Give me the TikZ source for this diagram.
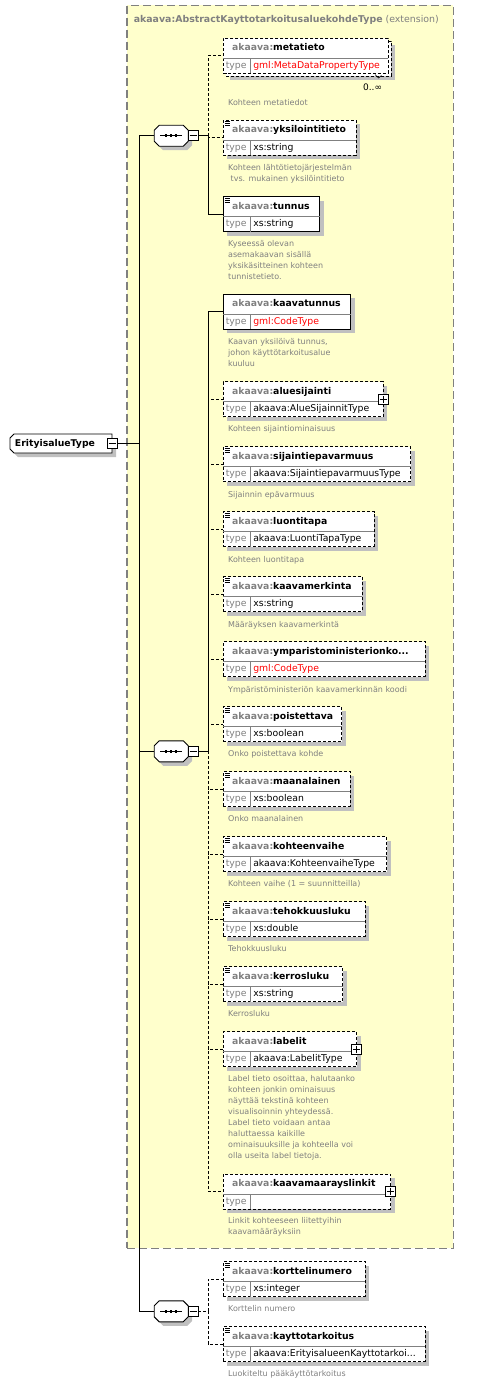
\documentclass[tikz,border=0pt]{standalone}
\usepackage{fontspec}
\setmainfont{DejaVu Sans}
\usetikzlibrary{calc}
\definecolor{extfill}{RGB}{255,255,204}
\definecolor{extborder}{RGB}{128,128,128}
\definecolor{greytext}{RGB}{128,128,128}
\definecolor{shadowc}{RGB}{192,192,192}
\definecolor{divc}{RGB}{128,128,128}
\definecolor{typered}{RGB}{255,0,0}
\tikzset{
  optline/.style={dash pattern=on 3pt off 2pt},
  reqline/.style={solid},
  elembox/.style={draw=black, fill=white, inner sep=0pt, outer sep=0pt},
  nametext/.style={font=\fontsize{9.3}{11}\selectfont\bfseries, inner sep=0pt, anchor=west, text height=7pt, text depth=2pt},
  typetext/.style={font=\fontsize{9.3}{11}\selectfont, inner sep=0pt, anchor=west, text height=7pt, text depth=2pt},
  desctext/.style={font=\fontsize{8}{11}\selectfont, text=greytext, inner sep=0pt, anchor=north west, align=left},
  smallbox/.style={draw=black, fill=white, minimum size=10pt, inner sep=0pt, outer sep=0pt},
  extbox/.style={draw=extborder, fill=extfill, dash pattern=on 8pt off 4pt, line width=1.1pt, inner sep=0pt, outer sep=0pt},
}
\newcommand{\elemcore}[7]{%
  \node[elembox,#5,minimum width=#4pt,minimum height=35pt,anchor=north west] (#1) at (#2,#3) {};
  \draw[divc] (#2,#3+20) -- (#2+#4,#3+20);
  \draw[divc] (#2+27,#3+20) -- (#2+27,#3+35);
  \node[nametext] (#1-n) at (#2+8.4,#3+10) {\textcolor{greytext}{akaava:}#6};
  \node[typetext,text=greytext] (#1-t) at (#2+2,#3+27.5) {type};
  \node[typetext] (#1-v) at (#2+29.5,#3+27.5) {#7};
}
\newcommand{\elem}[7]{%
  \fill[shadowc] (#2+4,#3+4) rectangle (#2+#4+4,#3+39);
  \elemcore{#1}{#2}{#3}{#4}{#5}{#6}{#7}}
\newcommand{\simpleicon}[2]{%
  \draw[line width=0.7pt] (#1+1.5,#2+1.2) -- ++(5,0);
  \draw[line width=0.7pt] (#1+1.5,#2+3.2) -- ++(5,0);
  \draw[line width=0.7pt] (#1+1.5,#2+5.2) -- ++(5,0);}
\newcommand{\plusmark}[1]{%
  \node[smallbox] (#1-p) at (#1.east) {};
  \draw ([xshift=-3.5pt]#1-p.center) -- ([xshift=3.5pt]#1-p.center);
  \draw ([yshift=-3.5pt]#1-p.center) -- ([yshift=3.5pt]#1-p.center);}
\newcommand{\desc}[4]{\node[desctext] (#1) at (#2,#3) {\rule{0pt}{6pt}#4};}
\newcommand{\octpath}[2]{(#1-12,#2-10.5) -- (#1+12,#2-10.5) -- (#1+17,#2-5.5) -- (#1+17,#2+5.5) -- (#1+12,#2+10.5) -- (#1-12,#2+10.5) -- (#1-17,#2+5.5) -- (#1-17,#2-5.5) -- cycle}
\newcommand{\seqnode}[3]{%
  \fill[shadowc] \octpath{#2+4}{#3+4};
  \node[inner sep=0pt, outer sep=0pt, minimum width=34pt, minimum height=21pt] (#1) at (#2,#3) {};
  \draw[fill=white] \octpath{#2}{#3};
  \draw (#2-11,#3) -- (#2+11,#3);
  \fill (#2-6.25,#3-1.25) rectangle ++(2.5,2.5);
  \fill (#2-1.25,#3-1.25) rectangle ++(2.5,2.5);
  \fill (#2+3.75,#3-1.25) rectangle ++(2.5,2.5);
  \node[smallbox] (#1-m) at (#2+22,#3) {};
  \draw ([xshift=-3.5pt]#1-m.center) -- ([xshift=3.5pt]#1-m.center);}
\begin{document}
\begin{tikzpicture}[x=1pt,y=-1pt,line width=0.9pt]
\useasboundingbox (0,0) rectangle (496,1384);
% extension box
\node[extbox, minimum width=326.3pt, minimum height=1243pt, anchor=north west] (ext) at (127,5.3) {};
\node[font=\fontsize{9.4}{11}\selectfont, text=greytext, anchor=west, inner sep=0pt] (exttitle) at (133.3,19.5) {\textbf{akaava:AbstractKayttotarkoitusaluekohdeType} (extension)};

% coordinates
\coordinate (mtop) at (139.7,135.7);
\coordinate (mbot) at (139.7,1311.3);
\coordinate (j1) at (208.3,135.7);
\coordinate (j2) at (208.3,751.3);
\coordinate (j3) at (208.3,1311.3);

% sequences
\seqnode{s1}{171.2}{135.7}
\seqnode{s2}{171.2}{751.3}
\seqnode{s3}{171.2}{1311.3}

% root
\fill[shadowc] (14,438) -- (116,438) -- (116,457) -- (18,457) -- (14,453) -- (14,442) -- cycle;
\node[inner sep=0pt, outer sep=0pt, minimum width=102pt, minimum height=19pt, anchor=west] (root) at (10,443.5) {};
\draw[fill=white] (14,434) -- (112,434) -- (112,453) -- (14,453) -- (10,449) -- (10,438) -- cycle;
\node[nametext] (root-n) at (14.5,443.5) {ErityisalueType};
\node[smallbox] (root-m) at (112,443.5) {};
\draw ([xshift=-3.5pt]root-m.center) -- ([xshift=3.5pt]root-m.center);

% main connectors
\draw (s1.west) -- (mtop) -- (mbot) -- (s3.west);
\draw (s2.west) -- (s2.west -| mtop);
\draw (root-m.east) -- (root-m.east -| mtop);
\draw (s1-m.east) -- (j1);
\draw (s2-m.east) -- (j2);
\draw[optline] (s3-m.east) -- (j3);

% ---------- sequence 1 ----------
\fill[shadowc] (230.3,45.3) rectangle (395.3,80.3);
\draw[optline, fill=white] (226.3,41.3) rectangle (391.3,76.3);
\elemcore{metatieto}{223.3}{38.3}{165}{optline}{metatieto}{\textcolor{typered}{gml:MetaDataPropertyType}}
\draw[line width=0.6pt] (375,74.5) -- (378.5,78) -- (381.5,75.5);
\node[font=\fontsize{9}{11}\selectfont, anchor=east, inner sep=0pt] (metatieto-occ) at (382.5,87.3) {0..∞};
\desc{metatieto-d}{227.7}{99.2}{Kohteen metatiedot}

\elem{yksilointitieto}{223.3}{120}{132.7}{optline}{yksilointitieto}{xs:string}
\simpleicon{223.3}{120}
\desc{yksilointitieto-d}{227.7}{164.2}{Kohteen lähtötietojärjestelmän\\\hspace*{2.5pt}tvs. mukainen yksilöintitieto}

\elem{tunnus}{223.3}{196.7}{96.4}{reqline}{tunnus}{xs:string}
\simpleicon{223.3}{196.7}
\desc{tunnus-d}{227.7}{240.2}{Kyseessä olevan\\asemakaavan sisällä\\yksikäsitteinen kohteen\\tunnistetieto.}

\draw[optline] (j1) |- (metatieto.west);
\draw[optline] (j1) |- (yksilointitieto.west);
\draw (j1) |- (tunnus.west);

% ---------- sequence 2 ----------
\elem{kaavatunnus}{223.3}{294.3}{127.4}{reqline}{kaavatunnus}{\textcolor{typered}{gml:CodeType}}
\desc{kaavatunnus-d}{227.7}{338.2}{Kaavan yksilöivä tunnus,\\johon käyttötarkoitusalue\\kuuluu}

\elem{aluesijainti}{223.3}{381.7}{160}{optline}{aluesijainti}{akaava:AlueSijainnitType}
\plusmark{aluesijainti}
\desc{aluesijainti-d}{227.7}{424.8}{Kohteen sijaintiominaisuus}

\elem{sijaintiepavarmuus}{223.3}{446.7}{187.4}{optline}{sijaintiepavarmuus}{akaava:SijaintiepavarmuusType}
\simpleicon{223.3}{446.7}
\desc{sijaintiepavarmuus-d}{227.7}{490.5}{Sijainnin epävarmuus}

\elem{luontitapa}{223.3}{511.7}{150.7}{optline}{luontitapa}{akaava:LuontiTapaType}
\simpleicon{223.3}{511.7}
\desc{luontitapa-d}{227.7}{555.5}{Kohteen luontitapa}

\elem{kaavamerkinta}{223.3}{576.7}{138.7}{optline}{kaavamerkinta}{xs:string}
\simpleicon{223.3}{576.7}
\desc{kaavamerkinta-d}{227.7}{620.5}{Määräyksen kaavamerkintä}

\elem{ymparistoministerionko}{223.3}{641.7}{201.7}{optline}{ymparistoministerionko...}{\textcolor{typered}{gml:CodeType}}
\desc{ymparistoministerionko-d}{227.7}{685.5}{Ympäristöministeriön kaavamerkinnän koodi}

\elem{poistettava}{223.3}{706.7}{118.4}{optline}{poistettava}{xs:boolean}
\simpleicon{223.3}{706.7}
\desc{poistettava-d}{227.7}{749.8}{Onko poistettava kohde}

\elem{maanalainen}{223.3}{771.7}{126.7}{optline}{maanalainen}{xs:boolean}
\simpleicon{223.3}{771.7}
\desc{maanalainen-d}{227.7}{814.8}{Onko maanalainen}

\elem{kohteenvaihe}{223.3}{836.7}{163.4}{optline}{kohteenvaihe}{akaava:KohteenvaiheType}
\simpleicon{223.3}{836.7}
\desc{kohteenvaihe-d}{227.7}{879.8}{Kohteen vaihe (1 = suunnitteilla)}

\elem{tehokkuusluku}{223.3}{901.7}{141.7}{optline}{tehokkuusluku}{xs:double}
\simpleicon{223.3}{901.7}
\desc{tehokkuusluku-d}{227.7}{944.8}{Tehokkuusluku}

\elem{kerrosluku}{223.3}{966.7}{119.4}{optline}{kerrosluku}{xs:string}
\simpleicon{223.3}{966.7}
\desc{kerrosluku-d}{227.7}{1009.8}{Kerrosluku}

\elem{labelit}{223.3}{1031.7}{133.4}{optline}{labelit}{akaava:LabelitType}
\plusmark{labelit}
\desc{labelit-d}{227.7}{1074.8}{Label tieto osoittaa, halutaanko\\kohteen jonkin ominaisuus\\näyttää tekstinä kohteen\\visualisoinnin yhteydessä.\\Label tieto voidaan antaa\\haluttaessa kaikille\\ominaisuuksille ja kohteella voi\\olla useita label tietoja.}

\elem{kaavamaarayslinkit}{223.3}{1174}{167.4}{optline}{kaavamaarayslinkit}{}
\plusmark{kaavamaarayslinkit}
\desc{kaavamaarayslinkit-d}{227.7}{1217.2}{Linkit kohteeseen liitettyihin\\kaavamääräyksiin}

\draw (j2) |- (kaavatunnus.west);
\foreach \e in {aluesijainti,sijaintiepavarmuus,luontitapa,kaavamerkinta,ymparistoministerionko,poistettava,maanalainen,kohteenvaihe,tehokkuusluku,kerrosluku,labelit,kaavamaarayslinkit}{
  \draw[optline] (j2) |- (\e.west);
}

% ---------- sequence 3 ----------
\elem{korttelinumero}{223.3}{1261.7}{141.7}{optline}{korttelinumero}{xs:integer}
\simpleicon{223.3}{1261.7}
\desc{korttelinumero-d}{227.7}{1304.8}{Korttelin numero}

\elem{kayttotarkoitus}{223.3}{1326.7}{201.7}{optline}{kayttotarkoitus}{akaava:ErityisalueenKayttotarkoi...}
\simpleicon{223.3}{1326.7}
\desc{kayttotarkoitus-d}{227.7}{1369.8}{Luokiteltu pääkäyttötarkoitus}

\draw[optline] (j3) |- (korttelinumero.west);
\draw[optline] (j3) |- (kayttotarkoitus.west);
\end{tikzpicture}
\end{document}
